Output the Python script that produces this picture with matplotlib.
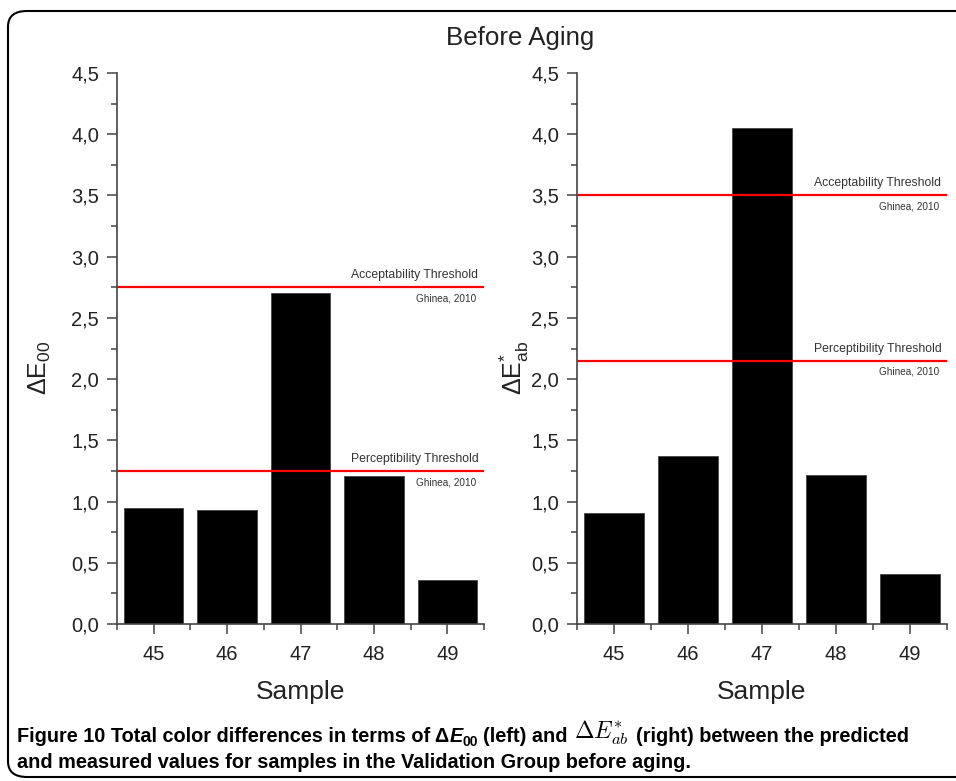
#!/usr/bin/env python

import numpy as np
import matplotlib
matplotlib.use('Agg')
import matplotlib.pyplot as plt
from matplotlib.patches import FancyBboxPatch
from matplotlib.ticker import FuncFormatter, MultipleLocator, FixedLocator

samples = [45, 46, 47, 48, 49]
de00 = [0.95, 0.93, 2.70, 1.21, 0.36]
deab = [0.91, 1.37, 4.05, 1.22, 0.41]
# thresholds (Ghinea, 2010) as drawn in the figure
thr00 = {'Acceptability Threshold': 2.75, 'Perceptibility Threshold': 1.25}
thrab = {'Acceptability Threshold': 3.50, 'Perceptibility Threshold': 2.15}

plt.rcParams['font.family'] = ['Liberation Sans', 'DejaVu Sans']
plt.rcParams['mathtext.fontset'] = 'custom'
plt.rcParams['mathtext.rm'] = 'Liberation Sans'
plt.rcParams['mathtext.it'] = 'Liberation Sans:italic'
plt.rcParams['mathtext.bf'] = 'Liberation Sans:bold'

fig = plt.figure(figsize=(9.56, 7.81), dpi=100)

# rounded frame around the whole figure
fig.patches.append(FancyBboxPatch((8 / 956, 4 / 781), 1.1, 766 / 781,
                                  boxstyle='round,pad=0,rounding_size=0.02',
                                  transform=fig.transFigure, fc='none',
                                  ec='black', lw=1.5))

fig.text(520 / 956, 1 - 38 / 781, 'Before Aging', ha='center', va='center',
         fontsize=18.6, color='#222222')

comma = FuncFormatter(lambda v, p: f'{v:.1f}'.replace('.', ','))


def panel(rect, values, thresholds, ylabel, ylab_x):
    ax = fig.add_axes(rect)
    ax.bar(samples, values, width=0.81, color='black', edgecolor='#444444',
           lw=0.6, zorder=2)
    ax.set_xlim(44.5, 49.5)
    ax.set_ylim(0, 4.5)
    ax.xaxis.set_major_locator(FixedLocator(samples))
    ax.xaxis.set_minor_locator(FixedLocator(np.arange(44.5, 50, 1.0)))
    ax.yaxis.set_major_locator(MultipleLocator(0.5))
    ax.yaxis.set_minor_locator(MultipleLocator(0.25))
    ax.yaxis.set_major_formatter(comma)
    for s in ['top', 'right']:
        ax.spines[s].set_visible(False)
    for s in ['left', 'bottom']:
        ax.spines[s].set_color('#444444')
        ax.spines[s].set_linewidth(1.2)
    ax.tick_params(which='major', length=7, width=1.1, color='#444444',
                   labelsize=14.5, labelcolor='#222222', pad=6)
    ax.tick_params(which='minor', length=4, width=1.1, color='#444444')
    ax.tick_params(axis='x', pad=8)
    for name, val in thresholds.items():
        ax.axhline(val, color='#ff0000', lw=1.6, zorder=3)
        ax.text(0.985, val + 0.05, name, transform=ax.get_yaxis_transform(),
                ha='right', va='bottom', fontsize=8.8, color='#333333')
        ax.text(0.98, val - 0.05, 'Ghinea, 2010',
                transform=ax.get_yaxis_transform(),
                ha='right', va='top', fontsize=7.2, color='#333333')
    ax.set_xlabel('Sample', fontsize=19, color='#222222')
    ax.xaxis.set_label_coords(0.5, -0.124)
    ax.xaxis.label.set_va('center')
    ax.set_ylabel(ylabel, fontsize=18, color='#222222')
    ax.yaxis.set_label_coords(ylab_x, 0.465)
    ax.yaxis.label.set_va('center')
    return ax


ax1 = panel([117 / 956, 157 / 781, 367 / 956, 551 / 781], de00, thr00,
            r'$\Delta\mathrm{E}_{00}$', -0.21)
ax2 = panel([577 / 956, 157 / 781, 370 / 956, 551 / 781], deab, thrab,
            r'$\Delta\mathrm{E}^{*}_{\mathrm{ab}}$', -0.17)

# caption
cap = dict(fontsize=14.3, fontweight='bold', color='black')
y1 = 1 - 742 / 781
t = fig.text(17 / 956, y1, 'Figure 10 Total color differences in terms of Δ',
             va='baseline', **cap)


def after(prev, s, dx=0, dy=0, **kw):
    return ax1.annotate(s, xy=(1, 0), xycoords=prev, xytext=(dx, dy),
                        textcoords='offset points', va='bottom',
                        annotation_clip=False, **kw)


t = after(t, 'E', fontstyle='italic', **cap)
t = after(t, '00', dy=-2.5, fontsize=10, fontweight='bold', color='black')
t = after(t, '(left) and', dx=3.5, dy=2.5, **cap)
t = after(t, r'$\Delta E^{*}_{ab}$', dx=5, dy=-1, fontsize=17,
          math_fontfamily='cm', color='black')
t = after(t, '(right) between the predicted', dx=5, dy=1, **cap)
fig.text(17 / 956, 1 - 768 / 781,
         'and measured values for samples in the Validation Group before aging.',
         va='baseline', **cap)

fig.savefig('out.png', dpi=100)
